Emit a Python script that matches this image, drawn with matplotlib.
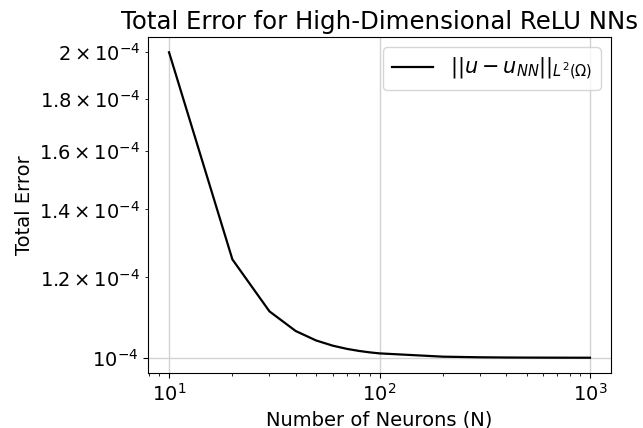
import matplotlib
matplotlib.use("Agg")
import matplotlib.pyplot as plt

neurons = [10, 20, 30, 40, 50, 60, 70, 80, 90, 100, 200, 300, 400, 500, 600, 700, 800, 900, 1000]
total_error = [2.0e-4, 1.25e-4, 1.111e-4, 1.0625e-4, 1.04e-4, 1.0278e-4, 1.0204e-4, 1.0156e-4,
               1.0123e-4, 1.01e-4, 1.0025e-4, 1.0011e-4, 1.0006e-4, 1.0004e-4, 1.0003e-4,
               1.0002e-4, 1.00016e-4, 1.00012e-4, 1.0001e-4]

plt.rcParams['font.size'] = 14
fig = plt.figure(figsize=(6.43, 4.28), dpi=100)
ax = fig.add_axes([148/643, 1-373/428, (611-148)/643, (373-37)/428])
ax.plot(neurons, total_error, color='black', linewidth=1.6,
        label=r'$||u - u_{NN}||_{L^2(\Omega)}$')
ax.set_xscale('log')
ax.set_yscale('log')
ax.set_xlabel('Number of Neurons (N)', fontsize=14)
ax.set_ylabel('Total Error', fontsize=14)
ax.set_title('Total Error for High-Dimensional ReLU NNs', fontsize=17.6)
ax.grid(True, color='#d3d3d3', linewidth=1.0)
ax.legend(loc='upper right', fontsize=15)
fig.savefig('out.png', dpi=100)
